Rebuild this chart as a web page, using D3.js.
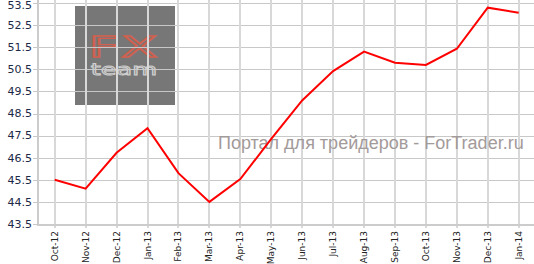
<!DOCTYPE html>
<html>
<head>
<meta charset="utf-8">
<script src="https://cdn.jsdelivr.net/npm/d3@7"></script>
<style>
  body { margin: 0; background: #fff; }
  svg { display: block; }
</style>
</head>
<body>
<div class="chart"></div>
<script>
// данные с графика
var months = ["Oct-12", "Nov-12", "Dec-12", "Jan-13", "Feb-13", "Mar-13", "Apr-13", "May-13",
  "Jun-13", "Jul-13", "Aug-13", "Sep-13", "Oct-13", "Nov-13", "Dec-13", "Jan-14"];
var values = [45.5, 45.1, 46.72, 47.83, 45.8, 44.5, 45.53, 47.35,
  49.09, 50.42, 51.3, 50.8, 50.7, 51.43, 53.29, 53.06];
var yTicks = [43.5, 44.5, 45.5, 46.5, 47.5, 48.5, 49.5, 50.5, 51.5, 52.5, 53.5];

var width = 534;
var height = 264;

var svg = d3.select(".chart")
  .append("svg")
  .attr("width", width)
  .attr("height", height);

var x = d3.scalePoint()
  .domain(months)
  .range([54.7, 518.7]);

var y = d3.scaleLinear()
  .domain([43.5, 53.5])
  .range([224, 3]);

// логотип под сеткой
var logo = svg.append("g");
logo.append("rect")
  .attr("x", 75).attr("y", 6)
  .attr("width", 100).attr("height", 99)
  .attr("fill", "#777777");
logo.append("text")
  .attr("x", 124).attr("y", 57)
  .attr("text-anchor", "middle")
  .attr("transform", "translate(124,0) scale(1.9,1) translate(-124,0)")
  .style("font-family", "DejaVu Sans")
  .style("font-size", "28px")
  .style("letter-spacing", "1px")
  .attr("fill", "none")
  .attr("stroke", "#d0604f")
  .attr("stroke-width", 1.4)
  .text("FX");
logo.append("text")
  .attr("x", 124).attr("y", 75)
  .attr("text-anchor", "middle")
  .attr("transform", "translate(124,0) scale(1.6,1) translate(-124,0)")
  .style("font-family", "DejaVu Sans")
  .style("font-size", "16px")
  .attr("fill", "none")
  .attr("stroke", "#cfcfcf")
  .attr("stroke-width", 0.9)
  .text("team");

// сетка
svg.append("g")
  .selectAll("line")
  .data(yTicks)
  .enter().append("line")
  .attr("x1", 33).attr("x2", width)
  .attr("y1", function(d) { return Math.round(y(d)) + 0.5; })
  .attr("y2", function(d) { return Math.round(y(d)) + 0.5; })
  .attr("stroke", "#c8c8c8");

svg.append("g")
  .selectAll("line")
  .data(months)
  .enter().append("line")
  .attr("x1", function(d) { return Math.round(x(d)); })
  .attr("x2", function(d) { return Math.round(x(d)); })
  .attr("y1", 0).attr("y2", 228)
  .attr("stroke", "#d8d8d8")
  .attr("stroke-width", 2);

// оси
svg.append("line")
  .attr("x1", 38).attr("x2", width)
  .attr("y1", 225).attr("y2", 225)
  .attr("stroke", "#cccccc").attr("stroke-width", 2);
svg.append("line")
  .attr("x1", 38).attr("x2", 38)
  .attr("y1", 0).attr("y2", 226)
  .attr("stroke", "#cccccc").attr("stroke-width", 2);

// подписи оси Y
svg.append("g")
  .selectAll("text")
  .data(yTicks)
  .enter().append("text")
  .attr("x", 32)
  .attr("y", function(d) { return Math.max(y(d), 5); })
  .attr("dy", "0.35em")
  .attr("text-anchor", "end")
  .style("font-family", "DejaVu Sans")
  .style("font-size", "11px")
  .attr("fill", "#1c2a48")
  .text(function(d) { return d.toFixed(1); });

// подписи оси X
svg.append("g")
  .selectAll("text")
  .data(months)
  .enter().append("text")
  .attr("transform", function(d) { return "translate(" + (x(d) + 3) + ",231) rotate(-90)"; })
  .attr("text-anchor", "end")
  .style("font-family", "DejaVu Sans")
  .style("font-size", "9px")
  .attr("fill", "#222")
  .text(function(d) { return d; });

// водяной знак
svg.append("text")
  .attr("x", 218).attr("y", 149)
  .style("font-family", "Liberation Sans")
  .style("font-size", "18px")
  .attr("fill", "#a39a9a")
  .text("Портал для трейдеров - ForTrader.ru");

// линия
var line = d3.line()
  .x(function(d, i) { return x(months[i]); })
  .y(function(d) { return y(d); });

svg.append("path")
  .datum(values)
  .attr("d", line)
  .attr("fill", "none")
  .attr("stroke", "#ff0000")
  .attr("stroke-width", 2);
</script>
</body>
</html>
